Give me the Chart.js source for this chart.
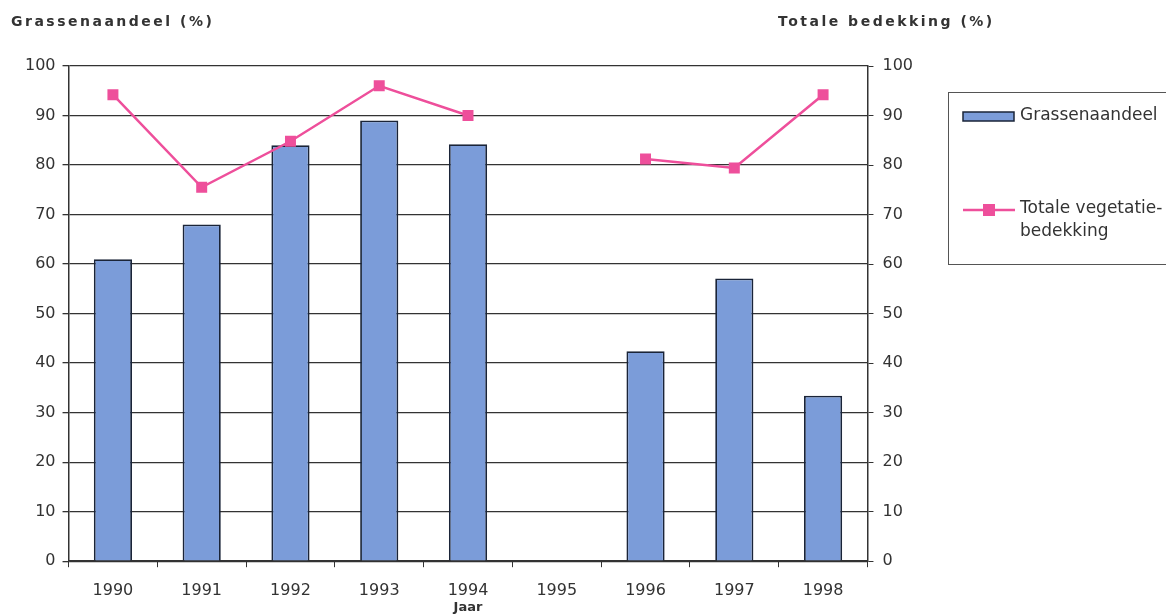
<!DOCTYPE html>
<html>
<head>
<meta charset="utf-8">
<script src="https://cdn.jsdelivr.net/npm/chart.js@4/dist/chart.umd.min.js"></script>
<style>
  html, body { margin: 0; padding: 0; background: #fff; }
  #wrap { position: relative; width: 1166px; height: 615px; overflow: hidden; }
  .axis-title {
    position: absolute; top: 13px;
    font: bold 14px "DejaVu Sans", sans-serif;
    letter-spacing: 2.5px; color: #333;
  }
</style>
</head>
<body>
<div id="wrap">
  <div class="axis-title" style="left:11px;">Grassenaandeel (%)</div>
  <div class="axis-title" style="left:778px;">Totale bedekking (%)</div>
  <canvas id="grassChart" width="1166" height="615"></canvas>
</div>
<script>
// Years on the x-axis
const years = ['1990', '1991', '1992', '1993', '1994', '1995', '1996', '1997', '1998'];
// Share of grasses (%), no survey in 1995
const grassShare = [61, 68, 84, 89, 84.2, null, 42.4, 57.1, 33.4];
// Total vegetation cover (%)
const totalCover = [94.2, 75.5, 84.8, 96, 90, null, 81.2, 79.4, 94.2];
// Axis ticks
const yTicks = [0, 10, 20, 30, 40, 50, 60, 70, 80, 90, 100];

const barFill = '#7b9cd9';
const barEdge = '#1a2438';
const lineColor = '#ee4f9b';
const inkColor = '#333333';
const fontFamily = '"DejaVu Sans", sans-serif';
const tickFont = { family: fontFamily, size: 16 };

// Legend box drawn on the right side of the canvas
const boxLegend = {
  id: 'boxLegend',
  afterDraw(chart) {
    const ctx = chart.ctx;
    ctx.save();
    ctx.strokeStyle = '#555';
    ctx.lineWidth = 1;
    ctx.strokeRect(948.5, 92.5, 240, 172);

    // bar swatch
    ctx.fillStyle = barFill;
    ctx.fillRect(963, 112, 51, 9);
    ctx.strokeStyle = barEdge;
    ctx.lineWidth = 1.5;
    ctx.strokeRect(963, 112, 51, 9);

    // line swatch with square marker
    ctx.strokeStyle = lineColor;
    ctx.lineWidth = 2.5;
    ctx.beginPath();
    ctx.moveTo(963, 210);
    ctx.lineTo(1015, 210);
    ctx.stroke();
    ctx.fillStyle = lineColor;
    ctx.fillRect(983, 204, 12, 12);

    ctx.fillStyle = inkColor;
    ctx.font = '17px ' + fontFamily;
    ctx.textBaseline = 'middle';
    ctx.fillText('Grassenaandeel', 1020, 116);
    ctx.fillText('Totale vegetatie-', 1020, 209);
    ctx.fillText('bedekking', 1020, 232);
    ctx.restore();
  }
};

new Chart(document.getElementById('grassChart'), {
  data: {
    labels: years,
    datasets: [
      {
        type: 'line',
        label: 'Totale vegetatie-bedekking',
        data: totalCover,
        yAxisID: 'y1',
        borderColor: lineColor,
        backgroundColor: lineColor,
        borderWidth: 2.5,
        pointStyle: 'rect',
        pointRadius: 6,
        spanGaps: false,
        tension: 0,
        order: 0
      },
      {
        type: 'bar',
        label: 'Grassenaandeel',
        data: grassShare,
        yAxisID: 'y',
        backgroundColor: barFill,
        borderColor: barEdge,
        borderWidth: 1.8,
        barPercentage: 0.43,
        categoryPercentage: 1,
        order: 1
      }
    ]
  },
  options: {
    responsive: false,
    animation: false,
    layout: { padding: { left: 18, right: 244, top: 66, bottom: 0 } },
    plugins: {
      legend: { display: false },
      tooltip: { enabled: false }
    },
    scales: {
      x: {
        grid: { offset: true, drawOnChartArea: false, color: inkColor, tickLength: 6 },
        border: { color: inkColor, width: 1.5 },
        ticks: { color: inkColor, font: tickFont, padding: 14 },
        title: {
          display: true, text: 'Jaar', color: inkColor, padding: { top: -15, bottom: 0 },
          font: { family: fontFamily, size: 13, weight: 'bold' }
        }
      },
      y: {
        position: 'left',
        min: 0, max: 100,
        afterBuildTicks: axis => { axis.ticks = yTicks.map(v => ({ value: v })); },
        grid: { color: inkColor, lineWidth: 1.3, tickLength: 6 },
        border: { color: inkColor, width: 1.5 },
        ticks: { color: inkColor, font: tickFont, padding: 7 }
      },
      y1: {
        position: 'right',
        min: 0, max: 100,
        afterBuildTicks: axis => { axis.ticks = yTicks.map(v => ({ value: v })); },
        grid: { drawOnChartArea: false, color: inkColor, tickLength: 6 },
        border: { color: inkColor, width: 1.5 },
        ticks: { color: inkColor, font: tickFont, padding: 9 }
      }
    }
  },
  plugins: [boxLegend]
});
</script>
</body>
</html>
